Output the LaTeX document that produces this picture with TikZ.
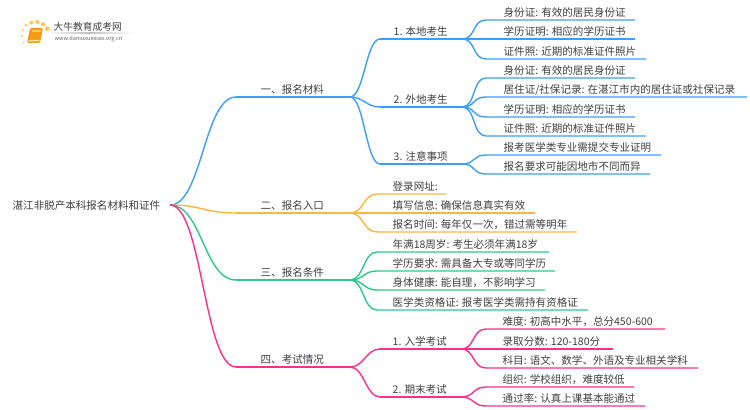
\documentclass[tikz,border=0pt]{standalone}
\usepackage{fontspec}
\setmainfont{Noto Sans CJK SC}
\usetikzlibrary{positioning}
\definecolor{blueline}{HTML}{3D9EFA}
\definecolor{orangeline}{HTML}{FDB53C}
\definecolor{greenline}{HTML}{2CC98A}
\definecolor{pinkline}{HTML}{FF2E8C}
\definecolor{booktext}{HTML}{3F3F3F}
\definecolor{bookorange}{HTML}{F59A12}
\definecolor{dotorange}{HTML}{FBC75A}
\tikzset{
    txt/.style={anchor=base west,inner sep=0pt,yshift=-0.6pt,text=booktext,font=\fontsize{7.9pt}{10pt}\selectfont},
    curve/.style={to path={.. controls +(#1,0) and +(-#1,0) .. (\tikztotarget)}},
    curve/.default=14,
    dot/.style={circle,fill=dotorange,inner sep=0pt},
    every path/.append style={line width=1.05pt},
}
\begin{document}
\begin{tikzpicture}[x=0.75pt,y=-0.75pt]
    \useasboundingbox (0,0) rectangle (750,410);

    % logo
    \node [dot,minimum size=1.8pt] (d1) at (22.7,30) {};
    \node [dot,minimum size=2.4pt] (d2) at (26,25.3) {};
    \node [dot,minimum size=3pt] (d3) at (31.3,22.7) {};
    \node [dot,minimum size=3.2pt] (d4) at (37.3,22) {};
    \node [dot,minimum size=3.2pt] (d5) at (43,24.3) {};
    \node [dot,minimum size=3.6pt] (d6) at (47.3,28.7) {};
    \node [dot,minimum size=1.8pt] (d7) at (21.7,36) {};
    \node [dot,minimum size=1.5pt] (d8) at (23.2,42.7) {};
    \fill [bookorange,rounded corners=1pt] (30,28) -- (43,28) -- (40,43) -- (27,43) -- cycle;
    \fill [dotorange] (32,30) -- (41,30) -- (40.5,32) -- (31.5,32) -- cycle;
    \fill [dotorange!50] (28.5,40) -- (39.5,40) -- (39.2,41.5) -- (28.2,41.5) -- cycle;
    \node [anchor=base west,inner sep=0pt,text=booktext,font=\fontsize{7.3pt}{9pt}\selectfont] (logo) at (53,30.5) {大牛教育成考网};
    \shade [left color=white,right color=white,middle color=black!25] (45,32.8) rectangle (133,33.6);
    \node [anchor=base west,inner sep=0pt,text=black!60,font=\fontsize{4.2pt}{5pt}\selectfont] (site) at (54,40.5) {www.daniuxuexiao.org.cn};

    % root and main branches
    \node [txt] (root) at (12,209) {湛江非脱产本科报名材料和证件};
    \coordinate (r) at (170,205);

    \coordinate (a0) at (236,97);
    \coordinate (a) at (350,97);
    \coordinate (b0) at (236,213);
    \coordinate (b) at (350,213);
    \coordinate (c0) at (236,280);
    \coordinate (c) at (350,280);
    \coordinate (d0) at (236,367);
    \coordinate (d) at (350,367);
    \node [txt] (at) at (260,93) {一、报名材料};
    \node [txt] (bt) at (260,209) {二、报名入口};
    \node [txt] (ct) at (260,276) {三、报名条件};
    \node [txt] (dt) at (260,363) {四、考试情况};
    \draw [blueline,curve=32] (r) to (a0);
    \draw [blueline] (a0) -- (a);
    \draw [orangeline,curve=32] (r) to (b0);
    \draw [orangeline] (b0) -- (b);
    \draw [greenline,curve=32] (r) to (c0);
    \draw [greenline] (c0) -- (c);
    \draw [pinkline,curve=32] (r) to (d0);
    \draw [pinkline] (d0) -- (d);

    % blue part
    \coordinate (a10) at (380,39);
    \coordinate (a1) at (462,39);
    \coordinate (a20) at (380,107);
    \coordinate (a2) at (462,107);
    \coordinate (a30) at (380,164);
    \coordinate (a3) at (462,164);
    \node [txt] (a1t) at (393,35) {1. 本地考生};
    \node [txt] (a2t) at (393,103) {2. 外地考生};
    \node [txt] (a3t) at (393,160) {3. 注意事项};
    \draw [blueline] (a) to [curve] (a10);
    \draw [blueline] (a10) -- (a1);
    \draw [blueline] (a) to [curve] (a20);
    \draw [blueline] (a20) -- (a2);
    \draw [blueline] (a) to [curve] (a30);
    \draw [blueline] (a30) -- (a3);

    \node [txt] (l1) at (503,16) {身份证: 有效的居民身份证};
    \node [txt] (l2) at (503,35) {学历证明: 相应的学历证书};
    \node [txt] (l3) at (503,55) {证件照: 近期的标准证件照片};
    \coordinate (l1a) at (486,20); \coordinate (l1b) at (635,20);
    \coordinate (l2a) at (486,39); \coordinate (l2b) at (635,39);
    \coordinate (l3a) at (486,59); \coordinate (l3b) at (646,59);
    \draw [blueline] (a1) to [curve] (l1a) -- (l1b);
    \draw [blueline] (a1) -- (l2a) -- (l2b);
    \draw [blueline] (a1) to [curve] (l3a) -- (l3b);

    \node [txt] (l4) at (503,74) {身份证: 有效的居民身份证};
    \node [txt] (l5) at (503,93) {居住证/社保记录: 在湛江市内的居住证或社保记录};
    \node [txt] (l6) at (503,113) {学历证明: 相应的学历证书};
    \node [txt] (l7) at (503,132) {证件照: 近期的标准证件照片};
    \coordinate (l4a) at (486,78); \coordinate (l4b) at (635,78);
    \coordinate (l5a) at (486,97); \coordinate (l5b) at (747,97);
    \coordinate (l6a) at (486,117); \coordinate (l6b) at (635,117);
    \coordinate (l7a) at (486,136); \coordinate (l7b) at (646,136);
    \draw [blueline] (a2) to [curve] (l4a) -- (l4b);
    \draw [blueline] (a2) to [curve] (l5a) -- (l5b);
    \draw [blueline] (a2) to [curve] (l6a) -- (l6b);
    \draw [blueline] (a2) to [curve] (l7a) -- (l7b);

    \node [txt] (l8) at (503,151) {报考医学类专业需提交专业证明};
    \node [txt] (l9) at (503,170) {报名要求可能因地市不同而异};
    \coordinate (l8a) at (486,155); \coordinate (l8b) at (661,155);
    \coordinate (l9a) at (486,174); \coordinate (l9b) at (650,174);
    \draw [blueline] (a3) to [curve] (l8a) -- (l8b);
    \draw [blueline] (a3) to [curve] (l9a) -- (l9b);

    % orange part
    \node [txt] (m1) at (392,190) {登录网址:};
    \node [txt] (m2) at (392,209) {填写信息: 确保信息真实有效};
    \node [txt] (m3) at (392,228) {报名时间: 每年仅一次，错过需等明年};
    \coordinate (m1a) at (377,194); \coordinate (m1b) at (446,194);
    \coordinate (m2a) at (377,213); \coordinate (m2b) at (535,213);
    \coordinate (m3a) at (377,232); \coordinate (m3b) at (577,232);
    \draw [orangeline] (b) to [curve] (m1a) -- (m1b);
    \draw [orangeline] (b) -- (m2a) -- (m2b);
    \draw [orangeline] (b) to [curve] (m3a) -- (m3b);

    % green part
    \node [txt] (n1) at (392,248) {年满18周岁: 考生必须年满18岁};
    \node [txt] (n2) at (392,267) {学历要求: 需具备大专或等同学历};
    \node [txt] (n3) at (392,286) {身体健康: 能自理，不影响学习};
    \node [txt] (n4) at (392,306) {医学类资格证: 报考医学类需持有资格证};
    \coordinate (n1a) at (377,252); \coordinate (n1b) at (549,252);
    \coordinate (n2a) at (377,271); \coordinate (n2b) at (555,271);
    \coordinate (n3a) at (377,290); \coordinate (n3b) at (545,290);
    \coordinate (n4a) at (377,310); \coordinate (n4b) at (588,310);
    \draw [greenline] (c) to [curve] (n1a) -- (n1b);
    \draw [greenline] (c) to [curve] (n2a) -- (n2b);
    \draw [greenline] (c) to [curve] (n3a) -- (n3b);
    \draw [greenline] (c) to [curve] (n4a) -- (n4b);

    % pink part
    \coordinate (d10) at (380,349);
    \coordinate (d1) at (461,349);
    \coordinate (d20) at (380,397);
    \coordinate (d2) at (461,397);
    \node [txt] (d1t) at (392,345) {1. 入学考试};
    \node [txt] (d2t) at (392,393) {2. 期末考试};
    \draw [pinkline] (d) to [curve] (d10);
    \draw [pinkline] (d10) -- (d1);
    \draw [pinkline] (d) to [curve] (d20);
    \draw [pinkline] (d20) -- (d2);

    \node [txt] (p1) at (502,325) {难度: 初高中水平，总分450-600};
    \node [txt] (p2) at (502,345) {录取分数: 120-180分};
    \node [txt] (p3) at (502,364) {科目: 语文、数学、外语及专业相关学科};
    \coordinate (p1a) at (486,329); \coordinate (p1b) at (665,329);
    \coordinate (p2a) at (486,349); \coordinate (p2b) at (613,349);
    \coordinate (p3a) at (486,368); \coordinate (p3b) at (698,368);
    \draw [pinkline] (d1) to [curve] (p1a) -- (p1b);
    \draw [pinkline] (d1) -- (p2a) -- (p2b);
    \draw [pinkline] (d1) to [curve] (p3a) -- (p3b);

    \node [txt] (q1) at (502,383) {组织: 学校组织，难度较低};
    \node [txt] (q2) at (502,402) {通过率: 认真上课基本能通过};
    \coordinate (q1a) at (486,387); \coordinate (q1b) at (634,387);
    \coordinate (q2a) at (486,406); \coordinate (q2b) at (645,406);
    \draw [pinkline] (d2) to [curve] (q1a) -- (q1b);
    \draw [pinkline] (d2) to [curve] (q2a) -- (q2b);
\end{tikzpicture}
\end{document}
